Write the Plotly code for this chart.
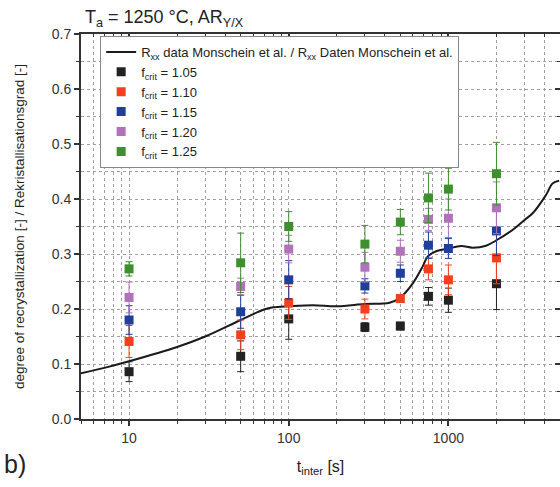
import numpy as np
import plotly.graph_objects as go

# ---- data ----
t_points = [10, 50, 100, 300, 500, 750, 1000, 2000]

f105 = [0.086, 0.114, 0.182, 0.167, 0.169, 0.223, 0.216, 0.246]
f105_err = [0.018, 0.028, 0.037, 0.008, 0.007, 0.016, 0.022, 0.047]
f110 = [0.141, 0.153, 0.211, 0.200, 0.219, 0.273, 0.253, 0.293]
f110_err = [0.029, 0.027, 0.030, 0.018, 0.004, 0.020, 0.027, 0.047]
f115 = [0.180, 0.195, 0.253, 0.242, 0.265, 0.316, 0.310, 0.342]
f115_err = [0.026, 0.030, 0.035, 0.013, 0.015, 0.024, 0.018, 0.045]
f120 = [0.221, 0.241, 0.309, 0.276, 0.305, 0.363, 0.365, 0.384]
f120_err = [0.028, 0.015, 0.025, 0.027, 0.020, 0.020, 0.035, 0.047]
f125 = [0.273, 0.284, 0.350, 0.318, 0.358, 0.402, 0.418, 0.446]
f125_err = [0.013, 0.054, 0.027, 0.034, 0.023, 0.045, 0.038, 0.057]

curve_t = [5, 7, 10, 20, 30, 50, 70, 80, 100, 142, 200, 300, 428, 500, 600,
           692, 740, 838, 1000, 1200, 1420, 1720, 2000, 2520, 3000, 3370,
           4080, 4490, 4940]
curve_x = [0.083, 0.093, 0.105, 0.131, 0.150, 0.180, 0.199, 0.203, 0.205,
           0.207, 0.205, 0.209, 0.2115, 0.221, 0.247, 0.278, 0.295, 0.305,
           0.310, 0.3145, 0.3115, 0.315, 0.325, 0.3436, 0.362, 0.374, 0.407,
           0.428, 0.433]

series = [
    ("1.05", f105, f105_err, "#222222"),
    ("1.10", f110, f110_err, "#f0401e"),
    ("1.15", f115, f115_err, "#1f3f9a"),
    ("1.20", f120, f120_err, "#b072ba"),
    ("1.25", f125, f125_err, "#3f8f2f"),
]

x_major = [10, 100, 1000]
x_minor = [m * 10 ** d for d in range(0, 4) for m in range(2, 10)
           if 5 <= m * 10 ** d <= 5000]
x_minor = [v for v in x_minor if v not in x_major]

FONT = "Arial, Liberation Sans, sans-serif"
AX = "#333333"
GRID = "#a0a0a0"

fig = go.Figure()

fig.add_trace(go.Scatter(
    x=curve_t, y=curve_x, mode="lines", line=dict(color="#1a1a1a", width=2),
    line_shape="spline",
    name="R<sub>xx</sub> data Monschein et al. / R<sub>xx</sub> Daten Monschein et al."))

for lab, vals, errs, col in series:
    fig.add_trace(go.Scatter(
        x=t_points, y=vals, mode="markers",
        marker=dict(symbol="square", size=9, color=col),
        error_y=dict(type="data", array=errs, visible=True, color=col,
                     thickness=1, width=3.5),
        name="f<sub>crit</sub> = " + lab))

# invisible trace for overlay axes
fig.add_trace(go.Scatter(x=[10], y=[0], xaxis="x2", yaxis="y2", mode="markers",
                         marker=dict(opacity=0), showlegend=False,
                         hoverinfo="skip"))

xr = [np.log10(5), np.log10(5000)]
yr = [0, 0.7]

fig.update_layout(
    width=560, height=487,
    margin=dict(l=81, r=0, t=34, b=68),
    paper_bgcolor="white", plot_bgcolor="white",
    font=dict(family=FONT, size=14, color="#333333"),
    showlegend=True,
    legend=dict(x=0.04, y=0.995, xanchor="left", yanchor="top",
                bgcolor="white", bordercolor="#888888", borderwidth=1,
                font=dict(size=13, color="#222222"),
                tracegroupgap=0, itemwidth=30),
    xaxis=dict(type="log", range=xr, tickmode="array", tickvals=x_major,
               ticktext=["10", "100", "1000"],
               ticks="outside", ticklen=5, tickwidth=1.5, tickcolor=AX,
               showline=True, linecolor=AX, linewidth=2,
               showgrid=True, gridcolor=GRID, griddash="dot", gridwidth=1,
               minor=dict(tickmode="array", tickvals=x_minor, ticks="outside",
                          ticklen=3, tickwidth=1.2, tickcolor=AX,
                          showgrid=True, gridcolor=GRID, griddash="dot",
                          gridwidth=1),
               zeroline=False,
               title=dict(text="t<sub>inter</sub> [s]",
                          font=dict(size=16, color="#222222"), standoff=16),
               tickfont=dict(size=14, color="#333333")),
    yaxis=dict(range=yr, tickmode="linear", tick0=0, dtick=0.1,
               tickformat=".1f",
               ticks="outside", ticklen=5, tickwidth=1.5, tickcolor=AX,
               showline=True, linecolor=AX, linewidth=2,
               showgrid=True, gridcolor=GRID, griddash="dot", gridwidth=1,
               minor=dict(dtick=0.05, ticks="outside", ticklen=3,
                          tickwidth=1.2, tickcolor=AX, showgrid=True,
                          gridcolor=GRID, griddash="dot", gridwidth=1),
               zeroline=False,
               title=dict(text="degree of recrystallization [-] / Rekristallisationsgrad [-]",
                          font=dict(size=13.5, color="#222222"), standoff=24),
               tickfont=dict(size=14, color="#333333")),
    xaxis2=dict(type="log", range=xr, overlaying="x", side="top",
                tickmode="array", tickvals=x_major, showticklabels=False,
                ticks="inside", ticklen=5, tickwidth=1.5, tickcolor=AX,
                showline=True, linecolor=AX, linewidth=2, showgrid=False,
                minor=dict(tickmode="array", tickvals=x_minor, ticks="inside",
                           ticklen=3, tickwidth=1.2, tickcolor=AX,
                           showgrid=False),
                zeroline=False),
    yaxis2=dict(range=yr, overlaying="y", side="right", tickmode="linear",
                tick0=0, dtick=0.1, showticklabels=False, ticks="inside",
                ticklen=5, tickwidth=1.5, tickcolor=AX, showline=False,
                showgrid=False,
                minor=dict(dtick=0.05, ticks="inside", ticklen=3,
                           tickwidth=1.2, tickcolor=AX, showgrid=False),
                zeroline=False),
)

fig.add_annotation(text="T<sub>a</sub> = 1250 °C, AR<sub>Y/X</sub>",
                   xref="paper", yref="paper", x=0.005, y=1.0,
                   xanchor="left", yanchor="bottom", yshift=2, showarrow=False,
                   font=dict(size=18, color="#222222", family=FONT))
fig.add_annotation(text="b)", xref="paper", yref="paper", x=-0.165, y=-0.075,
                   xanchor="left", yanchor="top", showarrow=False,
                   font=dict(size=25, color="#222222", family=FONT))

fig.write_html("out.html")
